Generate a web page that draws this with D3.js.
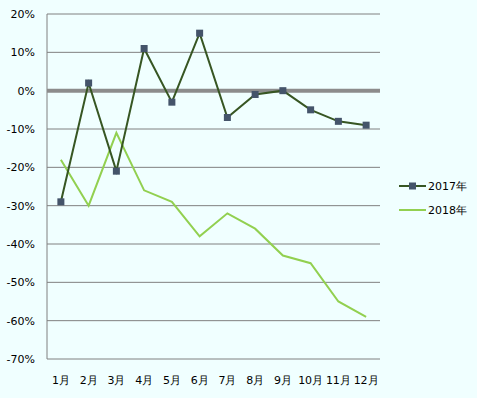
<!DOCTYPE html>
<html>
<head>
<meta charset="utf-8">
<script src="https://cdn.jsdelivr.net/npm/d3@7"></script>
<style>
  body { margin: 0; background: #F0FFFF; }
  svg { display: block; font-family: "DejaVu Sans", Verdana, sans-serif; }
</style>
</head>
<body>
<div id="graph"></div>
<script>
const months = ['1月','2月','3月','4月','5月','6月','7月','8月','9月','10月','11月','12月'];
const y2017 = [-29, 2, -21, 11, -3, 15, -7, -1, 0, -5, -8, -9];
const y2018 = [-18, -30, -11, -26, -29, -38, -32, -36, -43, -45, -55, -59];
const yTicks = [20, 10, 0, -10, -20, -30, -40, -50, -60, -70];
const seriesNames = ['2017年', '2018年'];

let width = 477, height = 398;
let plotLeft = 47, plotRight = 380, plotTop = 14, plotBottom = 359;

let svg = d3.select("#graph").append("svg").attr("width", width).attr("height", height);

let x = d3.scaleBand().domain(months).range([plotLeft, plotRight]);
let y = d3.scaleLinear().domain([-70, 20]).range([plotBottom, plotTop]);

// 그리드
svg.selectAll(".grid").data(yTicks.filter(d => d !== 0 && d !== -70)).enter()
  .append("line")
  .attr("x1", plotLeft).attr("x2", plotRight)
  .attr("y1", d => y(d)).attr("y2", d => y(d))
  .attr("stroke", "#808080").attr("stroke-width", 1);

// 축
svg.append("line").attr("x1", plotLeft).attr("x2", plotLeft).attr("y1", plotTop).attr("y2", plotBottom)
  .attr("stroke", "#808080");
svg.append("line").attr("x1", plotLeft).attr("x2", plotRight).attr("y1", plotBottom).attr("y2", plotBottom)
  .attr("stroke", "#808080");
svg.append("line").attr("x1", plotLeft).attr("x2", plotRight).attr("y1", y(0)).attr("y2", y(0))
  .attr("stroke", "#8C8C8C").attr("stroke-width", 4);

svg.selectAll(".ylab").data(yTicks).enter().append("text")
  .attr("x", plotLeft - 12).attr("y", d => y(d)).attr("dy", "0.35em")
  .attr("text-anchor", "end").attr("font-size", "11px").attr("fill", "#000")
  .text(d => d + "%");

svg.selectAll(".xlab").data(months).enter().append("text")
  .attr("x", d => x(d) + x.bandwidth() / 2).attr("y", 384)
  .attr("text-anchor", "middle").attr("font-size", "11px").attr("fill", "#000")
  .text(d => d);

let line = d3.line().x((d, i) => x(months[i]) + x.bandwidth() / 2).y(d => y(d));

svg.append("path").datum(y2018).attr("d", line)
  .attr("fill", "none").attr("stroke", "#92D050").attr("stroke-width", 2);
svg.append("path").datum(y2017).attr("d", line)
  .attr("fill", "none").attr("stroke", "#375623").attr("stroke-width", 2);

svg.selectAll(".mk").data(y2017).enter().append("rect")
  .attr("x", (d, i) => x(months[i]) + x.bandwidth() / 2 - 3.5)
  .attr("y", d => y(d) - 3.5)
  .attr("width", 7).attr("height", 7).attr("fill", "#44546A");

// 범례
let lg = svg.append("g");
[0, 1].forEach(i => {
  let ly = 186 + i * 24;
  lg.append("line").attr("x1", 399).attr("x2", 426).attr("y1", ly).attr("y2", ly)
    .attr("stroke", i === 0 ? "#375623" : "#92D050").attr("stroke-width", 2);
  if (i === 0) {
    lg.append("rect").attr("x", 409).attr("y", ly - 3.5).attr("width", 7).attr("height", 7)
      .attr("fill", "#44546A");
  }
  lg.append("text").attr("x", 428).attr("y", ly).attr("dy", "0.35em")
    .attr("font-size", "11px").attr("fill", "#000").text(seriesNames[i]);
});
</script>
</body>
</html>
